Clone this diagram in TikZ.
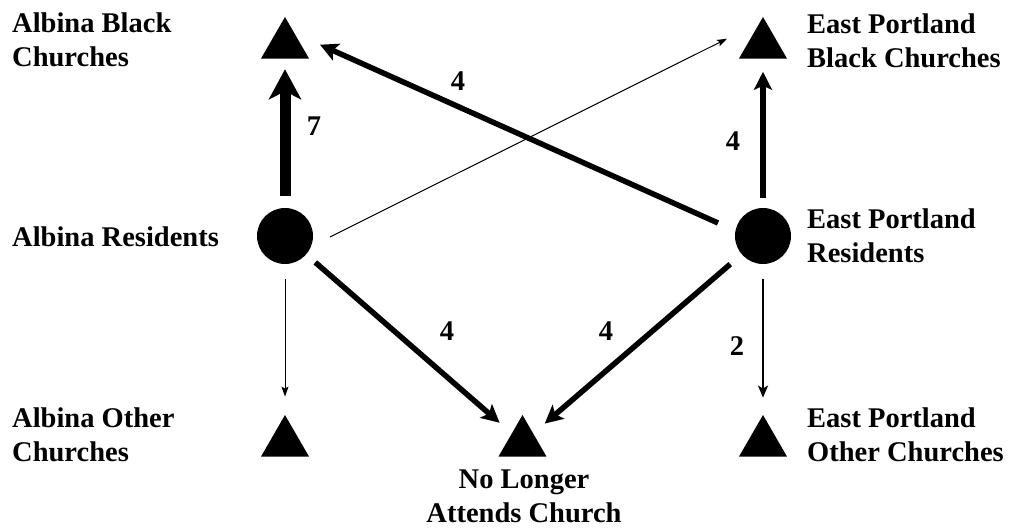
\documentclass[tikz,border=0pt]{standalone}
\usepackage{fontspec}
\setmainfont{Liberation Serif}
\usetikzlibrary{shapes.geometric,arrows.meta}

\tikzset{
  resident/.style={circle, fill=black, minimum size=56pt, inner sep=0pt},
  church/.style={regular polygon, regular polygon sides=3, fill=black, minimum size=55.4pt, inner sep=0pt},
  lbl/.style={font=\fontsize{28.5}{34}\selectfont\bfseries, align=left, inner sep=0pt, anchor=north west},
  num/.style={font=\fontsize{28.5}{34}\selectfont\bfseries, inner sep=0pt},
  flow7/.style={line width=11pt, -{Stealth[length=30pt,width=32pt,inset=8pt]}},
  flow4/.style={line width=5.5pt, -{Stealth[length=18pt,width=18pt,inset=4pt]}},
  flow2/.style={line width=2.5pt, -{Stealth[length=12pt,width=10pt,inset=3pt]}},
  flow1/.style={line width=1pt, -{Stealth[length=10pt,width=7pt,inset=2pt]}},
}

\begin{document}
\begin{tikzpicture}[x=1pt, y=1pt]
  \useasboundingbox (0,0) rectangle (1010,-529);

  %Define nodes
  \node[resident] (ar) at (285,-236) {};
  \node[resident] (er) at (763,-236) {};
  \node[church] (ab) at (285,-44.7) {};
  \node[church] (eb) at (763,-44.7) {};
  \node[church] (ao) at (285,-442.7) {};
  \node[church] (nl) at (522.5,-442.7) {};
  \node[church] (eo) at (763,-442.7) {};

  % Labels
  \node[lbl] (abl) at (12,-12.5) {Albina Black\\Churches};
  \node[lbl] (arl) at (12,-227) {Albina Residents};
  \node[lbl] (aol) at (12,-408) {Albina Other\\Churches};
  \node[lbl] (ebl) at (807,-14) {East Portland\\Black Churches};
  \node[lbl] (erl) at (807,-209) {East Portland\\Residents};
  \node[lbl] (eol) at (807,-408) {East Portland\\Other Churches};
  \node[lbl, anchor=north, align=center] (nll) at (524,-470) {No Longer\\Attends Church};

  % Connect the nodes
  \draw[flow7, shorten <=12pt, shorten >=10.5pt] (ar) -- (ab);
  \draw[flow1] ([xshift=45pt,yshift=-1pt]ar.center) -- ([xshift=-36pt,yshift=6pt]eb.center);
  \draw[flow4] ([xshift=-45pt,yshift=13pt]er.center) -- ([xshift=35pt]ab.center);
  \draw[flow4, shorten <=10pt, shorten >=13pt] (er) -- (eb);
  \draw[flow1, shorten <=15pt, shorten >=18pt] (ar) -- (ao);
  \draw[flow4, shorten <=12pt, shorten >=16pt] (ar) -- (nl);
  \draw[flow4, shorten <=15pt, shorten >=15pt] (er) -- (nl);
  \draw[flow2, shorten <=15pt, shorten >=17pt] (er) -- (eo);

  % Weights
  \node[num] (w7) at (314,-126) {7};
  \node[num] (w4a) at (458,-81) {4};
  \node[num] (w4b) at (733,-141) {4};
  \node[num] (w4c) at (447,-331) {4};
  \node[num] (w4d) at (606,-331) {4};
  \node[num] (w2) at (737,-346) {2};

\end{tikzpicture}
\end{document}
